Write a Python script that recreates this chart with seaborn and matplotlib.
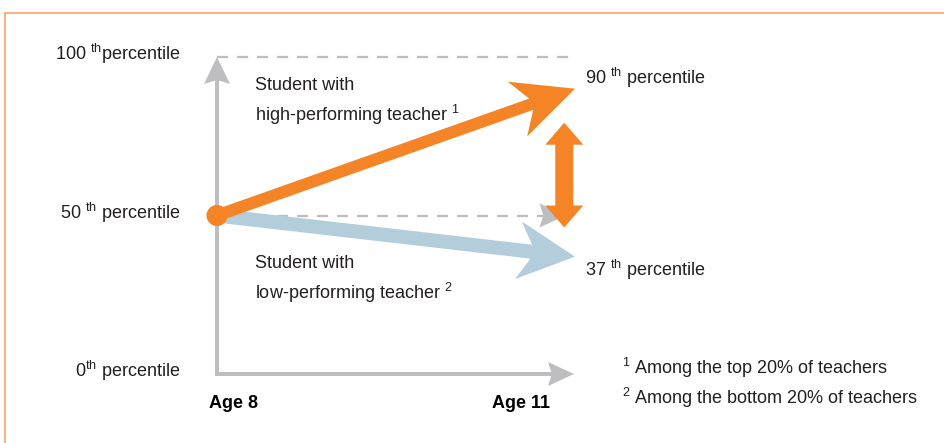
import numpy as np
import pandas as pd
import matplotlib
matplotlib.use("Agg")
import matplotlib.pyplot as plt
from matplotlib.patches import Polygon
from matplotlib.lines import Line2D
import seaborn as sns

# data
ages = [8, 11]
age_labels = ["Age 8", "Age 11"]
high_teacher = [50, 90]
low_teacher = [50, 37]
ref_levels = [0, 50, 100]
ref_labels = ["0$^{th}$ percentile", "50 $^{th}$ percentile", "100 $^{th}$percentile"]
end_labels = ["90 $^{th}$ percentile", "37 $^{th}$ percentile"]
group_labels = ["Student with\nhigh-performing teacher $^{1}$",
                "Student with\nlow-performing teacher $^{2}$"]
footnotes = ["$^{1}$ Among the top 20% of teachers",
             "$^{2}$ Among the bottom 20% of teachers"]

ORANGE = "#F58426"
BLUE = "#B4CDDA"
GRAY = "#BEBEC0"
TEXT = "#231F20"

sns.set_style("white")
plt.rcParams["font.family"] = ["Liberation Sans", "DejaVu Sans"]
plt.rcParams["mathtext.default"] = "regular"
plt.rcParams["text.color"] = TEXT
FS = 13

W, H = 945, 443
fig = plt.figure(figsize=(W / 100, H / 100), dpi=100)
ax = fig.add_axes([217 / W, 1 - 374 / H, 358 / W, 317 / H])
ax.set_xlim(ages[0], ages[1])
ax.set_ylim(0, 100)
ax.axis("off")


def fat_arrow(p0, p1, width, head_len, head_half, notch, color, both=False,
              pad0=0, pad1=0, zorder=3):
    # build the arrow outline in pixels, then hand it back in data units
    a = ax.transData.transform(p0)
    b = ax.transData.transform(p1)
    d = (b - a) / np.hypot(*(b - a))
    n = np.array([-d[1], d[0]])
    a = a - d * pad0
    b = b + d * pad1
    w = width / 2
    joint = notch * head_len + (1 - notch) * head_len * w / head_half

    def head(tip, dd, side):
        return [tip - dd * joint + side * n * w,
                tip - dd * head_len + side * n * head_half,
                tip,
                tip - dd * head_len - side * n * head_half,
                tip - dd * joint - side * n * w]

    pts = head(b, d, 1)
    if both:
        pts += head(a, -d, -1)
    else:
        pts += [a - n * w, a + n * w]
    pts = ax.transData.inverted().transform(np.array(pts))
    ax.add_patch(Polygon(pts, closed=True, fc=color, ec="none",
                         clip_on=False, zorder=zorder))


# dashed guide lines
sns.lineplot(x=ages, y=[ref_levels[2]] * 2, ax=ax, color=GRAY, lw=1.6,
             linestyle=(0, (5, 4)), clip_on=False, zorder=1)
sns.lineplot(x=[ages[0], 10.85], y=[ref_levels[1]] * 2, ax=ax, color=GRAY, lw=1.6,
             linestyle=(0, (5, 4)), clip_on=False, zorder=1)
fat_arrow((ages[0], ref_levels[1]), (10.92, ref_levels[1]), 0, 26, 12, 0.85, GRAY, zorder=1)

# axes arrows
fat_arrow((ages[0], 0), (ages[1], 0), 4, 26, 12, 0.85, GRAY, pad0=2, pad1=-1, zorder=2)
fat_arrow((ages[0], 0), (ages[0], 100), 4, 27, 13, 0.85, GRAY, pad0=2, zorder=2)

# the two trajectories
fat_arrow((ages[0], low_teacher[0]), (ages[1], low_teacher[1]), 14, 57, 29, 0.7, BLUE, zorder=3)
fat_arrow((ages[0], high_teacher[0]), (ages[1], high_teacher[1]), 12, 61, 29, 0.7, ORANGE, zorder=4)

# the gap between them
fat_arrow((10.91, ref_levels[1]), (10.91, high_teacher[1]), 18, 22, 19, 1.0, ORANGE,
          both=True, pad0=12, pad1=-34, zorder=4)

sns.scatterplot(x=[ages[0]], y=[high_teacher[0]], ax=ax, s=230, color=ORANGE,
                edgecolor="none", clip_on=False, zorder=5)

# labels
for lvl, lab in zip(ref_levels, ref_labels):
    ax.annotate(lab, xy=(ages[0], lvl), xytext=(-37, 3), textcoords="offset pixels",
                ha="right", va="center", fontsize=FS)

ax.annotate(age_labels[0], xy=(ages[0], 0), xytext=(-8, -29), textcoords="offset pixels",
            ha="left", va="center", fontsize=FS, fontweight="bold", color="black")
ax.annotate(age_labels[1], xy=(ages[1], 0), xytext=(-25, -29), textcoords="offset pixels",
            ha="right", va="center", fontsize=FS, fontweight="bold", color="black")

ax.annotate(end_labels[0], xy=(ages[1], high_teacher[1]), xytext=(10, 11),
            textcoords="offset pixels", ha="left", va="center", fontsize=FS)
ax.annotate(end_labels[1], xy=(ages[1], low_teacher[1]), xytext=(10, -13),
            textcoords="offset pixels", ha="left", va="center", fontsize=FS)

fig.text(255 / W, 1 - 102 / H, group_labels[0], ha="left", va="center",
         fontsize=FS, linespacing=1.5)
fig.text(255 / W, 1 - 280 / H, group_labels[1], ha="left", va="center",
         fontsize=FS, linespacing=1.5)

fig.text(622 / W, 1 - 368 / H, footnotes[0], ha="left", va="center", fontsize=FS)
fig.text(622 / W, 1 - 398 / H, footnotes[1], ha="left", va="center", fontsize=FS)

# thin orange frame, top and left only
fig.add_artist(Line2D([5 / W, 1], [1 - 13 / H] * 2, transform=fig.transFigure,
                      color="#F7A468", lw=1.2))
fig.add_artist(Line2D([5 / W] * 2, [0, 1 - 13 / H], transform=fig.transFigure,
                      color="#F7A468", lw=1.2))

fig.savefig("out.png", dpi=100, facecolor="white")
